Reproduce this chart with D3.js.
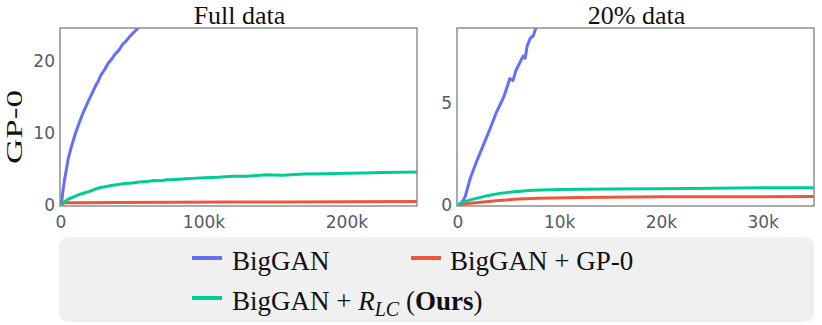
<!doctype html>
<html>
  <head>
    <script src="https://d3js.org/d3.v7.min.js"></script>
    <style>
      body { margin: 0; background: #fff; }
      .tick-label { font-family: "DejaVu Sans", Verdana, sans-serif; font-size: 17px; fill: #535b69; }
      .serif { font-family: "Liberation Serif", "Times New Roman", serif; fill: #111; }
    </style>
  </head>

  <body>
    <svg class="chart" width=822 height=325></svg>

    <script>
      // series: [step, GP-0]
      var fullBigGAN = [[0,0],[500,0.5],[1500,2.2],[2500,3.5],[4000,5.2],[5000,6.4],[7000,7.9],[10000,9.9],
        [12500,11.3],[15000,12.6],[17000,13.5],[19000,14.4],[21500,15.4],[24000,16.5],[26000,17.2],[28000,18.1],
        [30500,18.8],[33000,19.7],[35500,20.3],[38000,21.0],[40500,21.5],[43000,22.3],[45500,22.8],[48000,23.4],
        [51000,24.0],[54000,24.6],[57000,25.2]];
      var fullGP0 = [[0,0],[1000,0.2],[3000,0.3],[10000,0.33],[40000,0.36],[80000,0.38],[120000,0.4],
        [160000,0.42],[200000,0.45],[249000,0.48]];
      var fullRLC = [[0,0],[2000,0.4],[5000,0.8],[8600,1.1],[12000,1.4],[15000,1.6],[20000,1.9],[24000,2.2],
        [27000,2.4],[31000,2.55],[35000,2.7],[40000,2.85],[45000,3.0],[50000,3.05],[55000,3.2],[60000,3.25],
        [65000,3.4],[70000,3.38],[74000,3.5],[80000,3.55],[85000,3.6],[92000,3.7],[100000,3.8],[110000,3.85],
        [120000,4.0],[130000,4.0],[144000,4.2],[155000,4.15],[170000,4.3],[185000,4.35],[200000,4.4],
        [212000,4.45],[225000,4.5],[237000,4.55],[249000,4.6]];

      var smallBigGAN = [[0,0],[300,0.05],[700,0.4],[1200,1.3],[1800,2.1],[2500,2.95],[3200,3.8],[3800,4.57],
        [4500,5.3],[5100,6.2],[5400,6.1],[5700,6.6],[6100,7.0],[6400,7.3],[6600,7.2],[6800,7.8],[7100,8.17],
        [7400,8.3],[7600,8.6],[8000,9.0]];
      var smallGP0 = [[0,0],[1000,0.07],[2500,0.15],[4000,0.22],[6000,0.29],[8000,0.33],[12000,0.37],
        [20000,0.4],[30000,0.41],[35000,0.42]];
      var smallRLC = [[0,0],[300,0.12],[600,0.15],[1200,0.25],[2000,0.35],[3000,0.47],[4100,0.57],[5500,0.65],
        [7400,0.72],[10000,0.76],[15000,0.78],[20000,0.8],[25000,0.82],[30000,0.84],[35000,0.85]];

      var fullXTicks = [0, 100000, 200000], fullYTicks = [0, 10, 20];
      var smallXTicks = [0, 10000, 20000, 30000], smallYTicks = [0, 5];
      var panelTitles = ["Full data", "20% data"];
      var colors = { BigGAN: "#636efa", GP0: "#ef553b", RLC: "#00cc96" };

      var svg = d3.select("svg");

      function panel(id, left, right, xMax, yMax, xTicks, yTicks, title, series) {
        var top = 28, bottom = 206;
        var x = d3.scaleLinear().domain([0, xMax]).range([left + 1, right]);
        var y = d3.scaleLinear().domain([0, yMax]).range([bottom - 1, top]);
        var g = svg.append("g");

        g.append("clipPath").attr("id", id)
          .append("rect").attr("x", left).attr("y", top).attr("width", right - left).attr("height", bottom - top);

        var line = d3.line().x(function(d){return x(d[0]);}).y(function(d){return y(d[1]);});
        var plot = g.append("g").attr("clip-path", "url(#" + id + ")");
        series.forEach(function(s) {
          plot.append("path").datum(s.data)
            .attr("d", line)
            .attr("fill", "none")
            .attr("stroke", s.color)
            .attr("stroke-width", 3)
            .attr("stroke-linejoin", "round");
        });

        g.append("rect")
          .attr("x", left).attr("y", top).attr("width", right - left).attr("height", bottom - top)
          .attr("fill", "none").attr("stroke", "#8f8f8f").attr("stroke-width", 1.5);

        g.selectAll(".xt").data(xTicks).enter().append("text")
          .attr("class", "tick-label")
          .attr("x", function(d){return x(d);})
          .attr("y", 228)
          .attr("text-anchor", "middle")
          .text(d3.format("~s"));

        g.selectAll(".yt").data(yTicks).enter().append("text")
          .attr("class", "tick-label")
          .attr("x", left - 5)
          .attr("y", function(d){return y(d);})
          .attr("dy", "0.36em")
          .attr("text-anchor", "end")
          .text(function(d){return d;});

        g.append("text").attr("class", "serif")
          .attr("x", (left + right) / 2 + 1)
          .attr("y", 24)
          .attr("text-anchor", "middle")
          .style("font-size", "26px")
          .text(title);
      }

      panel("clipA", 60, 417, 249000, 24.6, fullXTicks, fullYTicks, panelTitles[0], [
        { data: fullBigGAN, color: colors.BigGAN },
        { data: fullGP0, color: colors.GP0 },
        { data: fullRLC, color: colors.RLC }
      ]);
      panel("clipB", 457, 814, 35000, 8.68, smallXTicks, smallYTicks, panelTitles[1], [
        { data: smallBigGAN, color: colors.BigGAN },
        { data: smallGP0, color: colors.GP0 },
        { data: smallRLC, color: colors.RLC }
      ]);

      svg.append("text").attr("class", "serif")
        .attr("transform", "translate(22,127) rotate(-90)")
        .attr("text-anchor", "middle")
        .attr("textLength", 74)
        .attr("lengthAdjust", "spacingAndGlyphs")
        .style("font-size", "23px")
        .text("GP-0");

      // legend
      var lg = svg.append("g");
      lg.append("rect").attr("x", 59).attr("y", 237).attr("width", 755).attr("height", 85)
        .attr("rx", 9).attr("fill", "#f0f0f0");

      var legendItems = [
        { x: 192, y: 258, color: colors.BigGAN },
        { x: 411, y: 258, color: colors.GP0 },
        { x: 192, y: 298, color: colors.RLC }
      ];
      lg.selectAll(".sw").data(legendItems).enter().append("line")
        .attr("x1", function(d){return d.x;}).attr("x2", function(d){return d.x + 30;})
        .attr("y1", function(d){return d.y;}).attr("y2", function(d){return d.y;})
        .attr("stroke", function(d){return d.color;}).attr("stroke-width", 4);

      lg.append("text").attr("class", "serif").attr("x", 232).attr("y", 270)
        .style("font-size", "27px").text("BigGAN");
      lg.append("text").attr("class", "serif").attr("x", 450).attr("y", 270)
        .style("font-size", "27px").text("BigGAN + GP-0");

      var t3 = lg.append("text").attr("class", "serif").attr("x", 232).attr("y", 310).style("font-size", "27px");
      t3.append("tspan").text("BigGAN + ");
      t3.append("tspan").style("font-style", "italic").text("R");
      t3.append("tspan").style("font-style", "italic").style("font-size", "20px").attr("dy", 6).text("LC");
      t3.append("tspan").attr("dy", -6).text(" (");
      t3.append("tspan").style("font-weight", "bold").text("Ours");
      t3.append("tspan").text(")");
    </script>
  </body>
</html>
